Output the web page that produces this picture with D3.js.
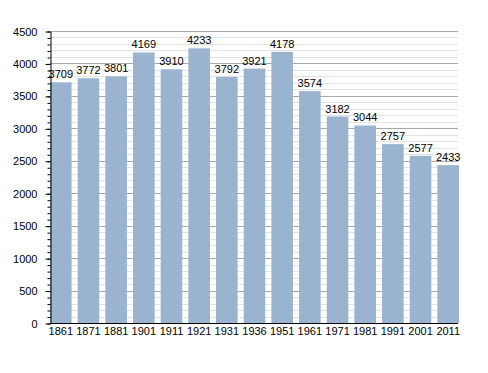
<!DOCTYPE html>
<html>
<head>
<meta charset="utf-8">
<script src="https://cdn.jsdelivr.net/npm/d3@7"></script>
<style>
  body { margin: 0; background: #fff; }
  text { font-family: "Liberation Sans", Arial, sans-serif; }
</style>
</head>
<body>
<div id="chart"></div>
<script>
var years = ["1861", "1871", "1881", "1901", "1911", "1921", "1931", "1936", "1951", "1961", "1971", "1981", "1991", "2001", "2011"];
var population = [3709, 3772, 3801, 4169, 3910, 4233, 3792, 3921, 4178, 3574, 3182, 3044, 2757, 2577, 2433];
var majorTicks = [0, 500, 1000, 1500, 2000, 2500, 3000, 3500, 4000, 4500];
var minorTicks = d3.range(0, 4501, 100);

var width = 488, height = 373;
var plotLeft = 50, plotRight = 458, plotTop = 31, plotBottom = 323;

var svg = d3.select("#chart")
            .append("svg")
            .attr("width", width)
            .attr("height", height);

var x = d3.scaleBand()
          .domain(years)
          .range([plotLeft, plotRight + 1])
          .paddingInner(0.22)
          .paddingOuter(0);

var y = d3.scaleLinear()
          .domain([0, 4500])
          .range([plotBottom, plotTop]);

// minor grid
svg.selectAll("line.minor")
   .data(minorTicks.filter(function(d) { return d % 500 !== 0; }))
   .enter()
   .append("line")
   .attr("class", "minor")
   .attr("x1", plotLeft).attr("x2", plotRight)
   .attr("y1", function(d) { return Math.round(y(d)) + 0.5; })
   .attr("y2", function(d) { return Math.round(y(d)) + 0.5; })
   .attr("stroke", "#e2e2e2")
   .attr("stroke-width", 1);

// major grid
svg.selectAll("line.major")
   .data(majorTicks.filter(function(d) { return d > 0; }))
   .enter()
   .append("line")
   .attr("class", "major")
   .attr("x1", plotLeft).attr("x2", plotRight)
   .attr("y1", function(d) { return Math.round(y(d)) + 0.5; })
   .attr("y2", function(d) { return Math.round(y(d)) + 0.5; })
   .attr("stroke", "#a8a8a8")
   .attr("stroke-width", 1);

// bars
svg.selectAll("rect")
   .data(population)
   .enter()
   .append("rect")
   .attr("x", function(d, i) { return x(years[i]); })
   .attr("y", function(d) { return y(d); })
   .attr("width", x.bandwidth())
   .attr("height", function(d) { return plotBottom - y(d); })
   .attr("fill", "#9ab3cf");

// value labels
svg.selectAll("text.val")
   .data(population)
   .enter()
   .append("text")
   .attr("class", "val")
   .text(function(d) { return d; })
   .attr("x", function(d, i) { return x(years[i]) + x.bandwidth() / 2; })
   .attr("y", function(d) { return y(d) - 4; })
   .attr("text-anchor", "middle")
   .attr("font-size", "11px")
   .attr("fill", "#000");

// y axis with minor ticks
var yMinor = svg.append("g")
   .attr("transform", "translate(" + (plotLeft + 0.5) + ",0.5)")
   .call(d3.axisLeft(y).tickValues(minorTicks).tickSize(3).tickFormat(""));
yMinor.select(".domain").remove();

var yAxis = svg.append("g")
   .attr("transform", "translate(" + (plotLeft + 0.5) + ",0.5)")
   .call(d3.axisLeft(y).tickValues(majorTicks).tickSize(5).tickPadding(8).tickSizeOuter(0).tickFormat(d3.format("d")));
yAxis.selectAll("text").attr("font-size", "11px").attr("fill", "#000").attr("font-family", "Liberation Sans, Arial, sans-serif");
yAxis.select(".domain").attr("stroke", "#000");

// x axis
var xAxis = svg.append("g")
   .attr("transform", "translate(0," + (plotBottom + 0.5) + ")")
   .call(d3.axisBottom(x).tickSize(0).tickPadding(4));
xAxis.select(".domain").attr("d", "M" + plotLeft + ",0H" + plotRight).attr("stroke", "#000");
xAxis.selectAll("text").attr("font-size", "11px").attr("fill", "#000").attr("font-family", "Liberation Sans, Arial, sans-serif");
</script>
</body>
</html>
